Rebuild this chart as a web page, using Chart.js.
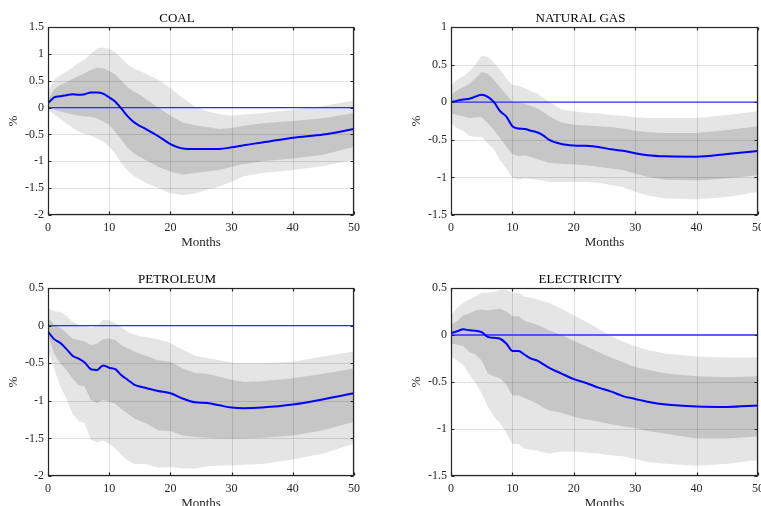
<!DOCTYPE html>
<html>
<head>
<meta charset="utf-8">
<script src="https://cdn.jsdelivr.net/npm/chart.js@4.4.1/dist/chart.umd.min.js"></script>
<style>
  html, body { margin: 0; padding: 0; background: #ffffff; overflow: hidden; width: 761px; height: 506px; }
  canvas { position: absolute; }
</style>
</head>
<body>
<canvas id="cCoal" width="402" height="250" style="left:0px;top:0px;"></canvas>
<canvas id="cGas" width="403" height="250" style="left:403px;top:0px;"></canvas>
<canvas id="cPet" width="402" height="250" style="left:0px;top:261px;"></canvas>
<canvas id="cElec" width="403" height="250" style="left:403px;top:261px;"></canvas>
<script>
// ---------------- DATA ----------------
const months = [0,1,2,3,4,5,6,7,8,9,10,11,12,13,14,15,16,18,20,22,24,26,28,30,32,35,40,45,50];
const zeroMonths = [0, 50];
const zeroValues = [0, 0];
const xTicks = [0, 10, 20, 30, 40, 50];

// COAL
const coalIrf     = [0.08,0.19,0.21,0.23,0.25,0.24,0.25,0.28,0.28,0.26,0.19,0.11,-0.02,-0.16,-0.27,-0.34,-0.40,-0.53,-0.68,-0.76,-0.77,-0.77,-0.77,-0.74,-0.70,-0.65,-0.56,-0.50,-0.40];
const coalHi90    = [0.30,0.52,0.60,0.67,0.75,0.83,0.90,1.00,1.10,1.12,1.09,1.03,0.92,0.80,0.73,0.68,0.63,0.52,0.36,0.18,0.02,-0.07,-0.12,-0.15,-0.13,-0.10,-0.04,0.03,0.13];
const coalHi68    = [0.14,0.34,0.42,0.47,0.53,0.59,0.64,0.70,0.74,0.73,0.68,0.61,0.50,0.38,0.30,0.24,0.16,0.00,-0.15,-0.28,-0.33,-0.36,-0.40,-0.38,-0.34,-0.29,-0.25,-0.20,-0.10];
const coalLo68    = [-0.01,-0.04,-0.07,-0.10,-0.13,-0.15,-0.16,-0.17,-0.20,-0.26,-0.32,-0.45,-0.60,-0.75,-0.85,-0.92,-0.98,-1.10,-1.19,-1.25,-1.22,-1.19,-1.16,-1.10,-1.05,-1.00,-0.95,-0.88,-0.73];
const coalLo90    = [-0.04,-0.13,-0.21,-0.29,-0.37,-0.45,-0.49,-0.52,-0.57,-0.63,-0.73,-0.86,-1.04,-1.17,-1.27,-1.34,-1.40,-1.50,-1.59,-1.63,-1.60,-1.53,-1.47,-1.38,-1.28,-1.22,-1.16,-1.09,-0.97];

// NATURAL GAS
const gasIrf      = [0,0.02,0.035,0.045,0.075,0.10,0.07,0.0,-0.12,-0.19,-0.32,-0.35,-0.355,-0.38,-0.40,-0.44,-0.50,-0.555,-0.575,-0.58,-0.595,-0.625,-0.645,-0.68,-0.705,-0.72,-0.725,-0.69,-0.65];
const gasHi90     = [0.23,0.30,0.35,0.41,0.50,0.62,0.60,0.52,0.43,0.32,0.23,0.22,0.19,0.15,0.12,0.06,0.01,-0.10,-0.12,-0.14,-0.15,-0.17,-0.18,-0.20,-0.21,-0.21,-0.21,-0.17,-0.12];
const gasHi68     = [0.10,0.16,0.20,0.25,0.32,0.40,0.38,0.30,0.20,0.10,0.01,0.00,-0.02,-0.05,-0.08,-0.13,-0.19,-0.27,-0.30,-0.31,-0.32,-0.33,-0.35,-0.38,-0.40,-0.41,-0.41,-0.37,-0.32];
const gasLo68     = [-0.15,-0.17,-0.19,-0.21,-0.20,-0.20,-0.28,-0.37,-0.48,-0.59,-0.69,-0.72,-0.71,-0.73,-0.76,-0.78,-0.81,-0.82,-0.83,-0.84,-0.86,-0.88,-0.90,-0.95,-0.99,-1.03,-1.04,-1.01,-0.97];
const gasLo90     = [-0.28,-0.35,-0.38,-0.45,-0.46,-0.46,-0.55,-0.63,-0.77,-0.88,-1.00,-1.03,-1.01,-1.02,-1.03,-1.04,-1.06,-1.06,-1.06,-1.06,-1.07,-1.10,-1.13,-1.19,-1.24,-1.28,-1.29,-1.26,-1.19];

// PETROLEUM
const petIrf      = [-0.08,-0.18,-0.23,-0.31,-0.40,-0.44,-0.49,-0.58,-0.59,-0.53,-0.56,-0.58,-0.66,-0.72,-0.78,-0.81,-0.83,-0.87,-0.90,-0.97,-1.02,-1.03,-1.06,-1.09,-1.10,-1.09,-1.05,-0.98,-0.90];
const petHi90     = [0.23,0.19,0.18,0.13,0.05,0.01,0.00,-0.03,-0.01,0.08,0.07,0.03,-0.03,-0.08,-0.12,-0.14,-0.15,-0.18,-0.23,-0.32,-0.40,-0.43,-0.46,-0.49,-0.50,-0.50,-0.48,-0.41,-0.34];
const petHi68     = [0.10,0.01,-0.03,-0.10,-0.17,-0.19,-0.21,-0.26,-0.24,-0.18,-0.17,-0.19,-0.26,-0.30,-0.34,-0.37,-0.40,-0.46,-0.48,-0.57,-0.63,-0.64,-0.68,-0.72,-0.75,-0.74,-0.70,-0.64,-0.57];
const petLo68     = [-0.12,-0.37,-0.50,-0.59,-0.70,-0.79,-0.81,-0.99,-1.03,-0.99,-1.01,-1.04,-1.11,-1.17,-1.23,-1.27,-1.30,-1.39,-1.40,-1.46,-1.48,-1.49,-1.50,-1.50,-1.50,-1.49,-1.46,-1.39,-1.28];
const petLo90     = [-0.32,-0.57,-0.81,-0.97,-1.17,-1.27,-1.30,-1.52,-1.55,-1.53,-1.57,-1.63,-1.72,-1.79,-1.84,-1.84,-1.84,-1.89,-1.88,-1.90,-1.90,-1.87,-1.86,-1.86,-1.85,-1.84,-1.78,-1.70,-1.57];

// ELECTRICITY
const elecIrf     = [0.02,0.04,0.06,0.05,0.045,0.03,-0.02,-0.03,-0.04,-0.09,-0.17,-0.17,-0.21,-0.25,-0.27,-0.31,-0.35,-0.41,-0.47,-0.51,-0.56,-0.60,-0.65,-0.68,-0.71,-0.74,-0.76,-0.765,-0.75];
const elecHi90    = [0.21,0.29,0.34,0.38,0.41,0.45,0.45,0.46,0.48,0.48,0.45,0.45,0.41,0.40,0.38,0.36,0.34,0.28,0.21,0.14,0.07,-0.01,-0.07,-0.12,-0.16,-0.20,-0.23,-0.24,-0.24];
const elecHi68    = [0.11,0.15,0.21,0.23,0.26,0.27,0.26,0.27,0.28,0.25,0.20,0.20,0.15,0.13,0.11,0.08,0.05,0.00,-0.06,-0.12,-0.18,-0.24,-0.29,-0.34,-0.37,-0.41,-0.44,-0.45,-0.44];
const elecLo68    = [-0.09,-0.10,-0.12,-0.18,-0.21,-0.27,-0.41,-0.44,-0.46,-0.53,-0.64,-0.64,-0.67,-0.70,-0.73,-0.77,-0.80,-0.83,-0.87,-0.90,-0.92,-0.95,-0.97,-0.99,-1.02,-1.05,-1.10,-1.10,-1.08];
const elecLo90    = [-0.23,-0.27,-0.32,-0.42,-0.51,-0.62,-0.76,-0.87,-0.94,-1.04,-1.16,-1.16,-1.21,-1.22,-1.23,-1.25,-1.26,-1.24,-1.24,-1.25,-1.26,-1.28,-1.29,-1.32,-1.35,-1.37,-1.39,-1.37,-1.33];

// ---------------- STYLE ----------------
const FONT = "'Liberation Serif', 'Times New Roman', serif";
const LIGHT = '#e5e5e5';
const DARK = '#c6c6c6';
const AXIS = '#262626';

function pts(xs, ys) { return xs.map((x, i) => ({ x: x, y: ys[i] })); }
function fmt(v) { return String(Math.round(v * 100) / 100); }

const framePlugin = {
  id: 'matlabFrame',
  beforeDatasetDraw(chart, args) {
    if (args.index !== 1) return;
    const { ctx, chartArea: a, scales: { x, y } } = chart;
    ctx.save();
    ctx.strokeStyle = 'rgba(0,0,0,0.12)';
    ctx.lineWidth = 1;
    ctx.beginPath();
    x.ticks.forEach(t => {
      const px = Math.round(x.getPixelForValue(t.value)) + 0.5;
      ctx.moveTo(px, a.top); ctx.lineTo(px, a.bottom);
    });
    y.ticks.forEach(t => {
      if (Math.abs(t.value) < 1e-9) return;
      const py = Math.round(y.getPixelForValue(t.value)) + 0.5;
      ctx.moveTo(a.left, py); ctx.lineTo(a.right, py);
    });
    ctx.stroke();
    ctx.restore();
  },
  afterDraw(chart) {
    const { ctx, chartArea: a, scales: { x, y } } = chart;
    ctx.save();
    ctx.strokeStyle = AXIS;
    ctx.lineWidth = 1.2;
    const L = Math.round(a.left) + 0.5, R = Math.round(a.right) - 0.5;
    const T = Math.round(a.top) + 0.5, B = Math.round(a.bottom) - 0.5;
    ctx.strokeRect(L, T, R - L, B - T);
    const tl = 3;
    ctx.beginPath();
    x.ticks.forEach(t => {
      const px = Math.round(x.getPixelForValue(t.value)) + 0.5;
      ctx.moveTo(px, B); ctx.lineTo(px, B - tl);
      ctx.moveTo(px, T); ctx.lineTo(px, T + tl);
    });
    y.ticks.forEach(t => {
      const py = Math.round(y.getPixelForValue(t.value)) + 0.5;
      ctx.moveTo(L, py); ctx.lineTo(L + tl, py);
      ctx.moveTo(R, py); ctx.lineTo(R - tl, py);
    });
    ctx.stroke();
    ctx.restore();
  }
};

function makeChart(id, title, yMin, yMax, irf, hi90, hi68, lo68, lo90) {
  const band = (data, fill, color) => ({
    data: pts(months, data), fill: fill, backgroundColor: color,
    borderColor: 'transparent', borderWidth: 0, pointRadius: 0, tension: 0
  });
  new Chart(document.getElementById(id), {
    type: 'line',
    data: {
      datasets: [
        { data: pts(months, irf), borderColor: '#0000ff', borderWidth: 2, pointRadius: 0,
          fill: false, cubicInterpolationMode: 'monotone' },
        { data: pts(zeroMonths, zeroValues), borderColor: '#2b2bff', borderWidth: 1.3, pointRadius: 0,
          fill: false, tension: 0 },
        band(hi68, '+1', DARK),
        band(lo68, false, DARK),
        band(hi90, '+1', LIGHT),
        band(lo90, false, LIGHT)
      ]
    },
    plugins: [framePlugin],
    options: {
      responsive: false,
      animation: false,
      devicePixelRatio: 1,
      events: [],
      layout: { padding: { left: 0, top: 0, right: 48, bottom: 0 } },
      plugins: {
        legend: { display: false },
        tooltip: { enabled: false },
        title: {
          display: true, text: title, color: '#000',
          font: { family: FONT, size: 13, weight: 'normal', lineHeight: 1 },
          padding: { top: 12.5, bottom: 1.5 }
        }
      },
      scales: {
        x: {
          type: 'linear', min: 0, max: 50,
          afterBuildTicks: s => { s.ticks = xTicks.map(v => ({ value: v })); },
          ticks: { color: AXIS, font: { family: FONT, size: 12 }, padding: 5.5, maxRotation: 0 },
          grid: { display: false, drawTicks: false, tickLength: 0 },
          border: { display: false },
          title: { display: true, text: 'Months', color: AXIS,
                   font: { family: FONT, size: 13, lineHeight: 1 }, padding: { top: 0, bottom: 1 } },
          afterFit: s => { s.height = 35; s.paddingLeft = 0; s.paddingRight = 0; }
        },
        y: {
          min: yMin, max: yMax,
          ticks: { stepSize: 0.5, color: AXIS, font: { family: FONT, size: 12 }, padding: 4,
                   callback: v => fmt(v) },
          grid: { display: false, drawTicks: false, tickLength: 0 },
          border: { display: false },
          title: { display: true, text: '%', color: AXIS,
                   font: { family: FONT, size: 13, lineHeight: 1 }, padding: { top: 7.5, bottom: 0 } },
          afterFit: s => { s.width = 48; s.paddingTop = 0; s.paddingBottom = 0; }
        }
      }
    }
  });
}

makeChart('cCoal', 'COAL', -2, 1.5, coalIrf, coalHi90, coalHi68, coalLo68, coalLo90);
makeChart('cGas', 'NATURAL GAS', -1.5, 1, gasIrf, gasHi90, gasHi68, gasLo68, gasLo90);
makeChart('cPet', 'PETROLEUM', -2, 0.5, petIrf, petHi90, petHi68, petLo68, petLo90);
makeChart('cElec', 'ELECTRICITY', -1.5, 0.5, elecIrf, elecHi90, elecHi68, elecLo68, elecLo90);
</script>
</body>
</html>
